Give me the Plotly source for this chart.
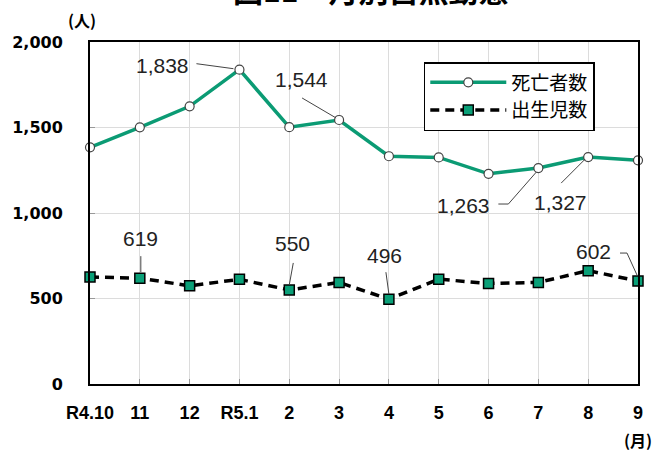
import plotly.graph_objects as go

months = ["R4.10", "11", "12", "R5.1", "2", "3", "4", "5", "6", "7", "8", "9"]
deaths = [1384, 1501, 1624, 1838, 1502, 1544, 1332, 1325, 1229, 1263, 1327, 1308]
births = [626, 619, 574, 612, 550, 594, 496, 613, 588, 594, 663, 602]
death_name = "死亡者数"
birth_name = "出生児数"
title_text = "図11　月別自然動態"
y_unit = "(人)"
x_unit = "(月)"
y_ticks = [0, 500, 1000, 1500, 2000]

GREEN = "#0b9b74"
W, H = 658, 454
ML, MR, MT, MB = 88, 20, 42, 70
PW, PH = W - ML - MR, H - MT - MB


def px(xp):
    return (xp - ML) / PW


def py(yp):
    return (MT + PH - yp) / PH


fig = go.Figure()
fig.add_trace(go.Scatter(
    x=months, y=deaths, name=death_name, mode="lines+markers",
    line=dict(color=GREEN, width=3.5),
    marker=dict(symbol="circle", size=9, color="white", line=dict(color="#444", width=1.2)),
    cliponaxis=False,
))
fig.add_trace(go.Scatter(
    x=months, y=births, name=birth_name, mode="lines+markers",
    line=dict(color="black", width=3.5, dash="9px,6px"),
    marker=dict(symbol="square", size=10, color="#0aa078", line=dict(color="black", width=1.5)),
    cliponaxis=False,
))

# data labels: (series, index, text shift dx, dy-up, leader path points relative to point, y-up)
label_font = dict(family="Liberation Sans, Arial, sans-serif", size=21, color="#222")
labels = [
    (deaths, 3, -77, 4.5, [(-43, 6), (-6, 1)]),
    (deaths, 5, -38, 40.5, [(-37, 22), (-3, 2)]),
    (deaths, 9, -75, -37.5, [(-40, -36), (-30, -36), (-2, -4)]),
    (deaths, 10, -28, -45.5, [(-27, -26), (-3, -2)]),
    (births, 1, 1, 40, [(1, 22), (1, 6)]),
    (births, 4, 3, 46.5, [(4, 27), (0, 5)]),
    (births, 6, -4, 43.5, [(-3, 27), (0, 5)]),
    (births, 11, -45, 29.5, [(-18, 28), (-11, 28), (-1, 6)]),
]
for series, i, dx, dy, pts in labels:
    fig.add_annotation(
        x=i, y=series[i], xref="x", yref="y",
        text=f"{series[i]:,}", showarrow=False,
        xshift=dx, yshift=dy, font=label_font,
    )
    path = "M" + " L".join(f"{p[0]},{p[1]}" for p in pts)
    fig.add_shape(
        type="path", xref="x", yref="y",
        xsizemode="pixel", ysizemode="pixel",
        xanchor=i, yanchor=series[i],
        path=path, line=dict(color="#444", width=1),
    )

# title (cut off at top), units
fig.add_annotation(
    x=px(370), y=py(13), xref="paper", yref="paper",
    xanchor="center", yanchor="bottom",
    text=title_text, showarrow=False,
    font=dict(family="Noto Sans CJK JP", size=30, color="black", weight="bold"),
)
fig.add_annotation(
    x=px(80), y=py(20), xref="paper", yref="paper",
    xanchor="center", yanchor="middle",
    text=y_unit, showarrow=False,
    font=dict(family="Noto Sans CJK JP", size=16, color="black", weight="bold"),
)
fig.add_annotation(
    x=px(638), y=py(440), xref="paper", yref="paper",
    xanchor="center", yanchor="middle",
    text=x_unit, showarrow=False,
    font=dict(family="Noto Sans CJK JP", size=16, color="black", weight="bold"),
)

fig.update_layout(
    width=W, height=H,
    margin=dict(l=ML, r=MR, t=MT, b=MB),
    paper_bgcolor="white", plot_bgcolor="white",
    showlegend=True,
    legend=dict(
        x=px(423), y=py(62), xanchor="left", yanchor="top",
        bgcolor="white", bordercolor="black", borderwidth=1.5,
        font=dict(family="Noto Sans CJK JP", size=19, color="black"),
        itemwidth=76, tracegroupgap=0,
    ),
)
fig.update_xaxes(
    type="category", range=[0, len(months) - 1],
    showgrid=True, gridcolor="#dcdcdc", gridwidth=1,
    showline=True, linecolor="black", linewidth=2, mirror=True,
    ticks="inside", ticklen=5, tickcolor="#999",
    tickfont=dict(family="Liberation Sans Narrow, Arial Narrow, Liberation Sans", size=18, color="black", weight="bold"),
    ticklabelstandoff=11,
)
fig.update_yaxes(
    range=[0, 2000], tickvals=y_ticks, tickformat=",d",
    showgrid=True, gridcolor="#dcdcdc", gridwidth=1,
    showline=True, linecolor="black", linewidth=2, mirror=True,
    ticks="inside", ticklen=5, tickcolor="#999",
    tickfont=dict(family="DejaVu Sans", size=16, color="black", weight="bold"),
    ticklabelstandoff=22,
    zeroline=False,
)

fig.write_html("out.html", config={"displayModeBar": False},
               post_script="document.body.style.margin='0';")
